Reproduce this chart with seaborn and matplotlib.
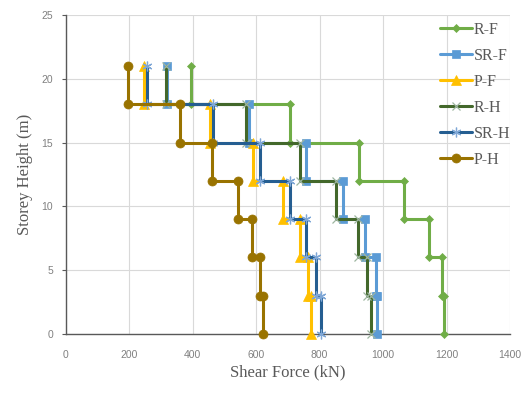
import numpy as np
import pandas as pd
import matplotlib
matplotlib.use("Agg")
import matplotlib.pyplot as plt
import seaborn as sns

# storey shear per storey, top storey first (kN)
story_top = [21, 18, 15, 12, 9, 6, 3]
story_bottom = [18, 15, 12, 9, 6, 3, 0]

r_f = [394, 707, 924, 1066, 1146, 1187, 1192]
sr_f = [321, 578, 759, 875, 942, 977, 982]
p_f = [247, 455, 591, 686, 740, 765, 773]
r_h = [318, 567, 740, 852, 920, 951, 961]
sr_h = [258, 465, 613, 707, 758, 788, 804]
p_h = [198, 360, 460, 544, 586, 613, 621]

series = ["R-F", "SR-F", "P-F", "R-H", "SR-H", "P-H"]
values = [r_f, sr_f, p_f, r_h, sr_h, p_h]
colors = ["#70AD47", "#5B9BD5", "#FFC000", "#43682B", "#255E91", "#997300"]
markers = ["D", "s", "^", "x", (6, 2, 0), "o"]
msizes = [4.5, 6, 6.5, 6, 7, 6.5]

sns.set_style("whitegrid")
plt.rcParams["font.family"] = ["Liberation Serif", "DejaVu Serif"]

fig = plt.figure(figsize=(5.25, 3.94), dpi=100)
ax = fig.add_axes([65.5 / 525, 60 / 394, (510 - 65.5) / 525, (334 - 15) / 394])

for name, vals, c, m, ms in zip(series, values, colors, markers, msizes):
    xs, ys = [], []
    for v, t, b in zip(vals, story_top, story_bottom):
        xs += [v, v]
        ys += [t, b]
    df = pd.DataFrame({"shear": xs, "height": ys})
    light = m in ("x", (6, 2, 0))
    sns.lineplot(data=df, x="shear", y="height", sort=False, estimator=None,
                 ax=ax, color=c, linewidth=2.2, marker=m, markersize=ms,
                 markeredgewidth=0.9 if light else 0.5,
                 markeredgecolor=("#9DB5A0" if m == "x" else "#7FA7D6") if light else c,
                 label=name, clip_on=False)

ax.set_xlim(0, 1400)
ax.set_ylim(0, 25)
ax.set_xticks(np.arange(0, 1401, 200))
ax.set_yticks(np.arange(0, 26, 5))
ax.grid(True, color="#D9D9D9", linewidth=0.8)
for s in ["top", "right"]:
    ax.spines[s].set_visible(False)
for s in ["left", "bottom"]:
    ax.spines[s].set_visible(True)
    ax.spines[s].set_color("#595959")
    ax.spines[s].set_linewidth(1.0)
    ax.spines[s].set_zorder(1)
ax.tick_params(axis="y", left=True, length=3, color="#595959", width=0.8)
ax.tick_params(axis="x", bottom=False)
for lab in ax.get_xticklabels() + ax.get_yticklabels():
    lab.set_fontfamily("Liberation Sans")
    lab.set_fontsize(7.5)
    lab.set_color("#808080")
ax.tick_params(axis="x", pad=8)
ax.tick_params(axis="y", pad=6)

ax.set_xlabel("Shear Force (kN)", fontsize=12, color="#595959", labelpad=3)
ax.set_ylabel("Storey Height (m)", fontsize=12, color="#595959", labelpad=6)

handles, labels = ax.get_legend_handles_labels()
if ax.get_legend():
    ax.get_legend().remove()
leg = fig.legend(handles, labels, loc="upper left",
                 bbox_to_anchor=(440 / 525, 1 - 22 / 394),
                 frameon=False, fontsize=11.5, handlelength=2.0,
                 handletextpad=0.1, labelspacing=0.62, borderpad=0,
                 borderaxespad=0)
for t in leg.get_texts():
    t.set_color("#595959")

fig.savefig("out.png", dpi=100)
